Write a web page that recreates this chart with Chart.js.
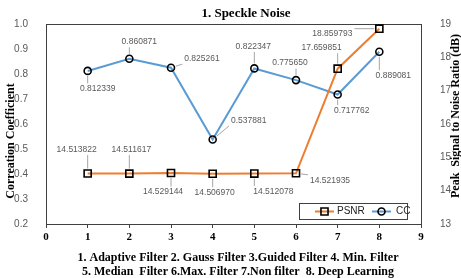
<!DOCTYPE html>
<html>
<head>
<meta charset="utf-8">
<script src="https://cdn.jsdelivr.net/npm/chart.js@4/dist/chart.umd.min.js"></script>
<style>
  html, body { margin: 0; padding: 0; background: #fff; }
  #wrap { width: 461px; height: 278px; position: relative; }
</style>
</head>
<body>
<div id="wrap"><canvas id="c" width="461" height="278"></canvas></div>
<script>
// filters 1..8
const filters = [1, 2, 3, 4, 5, 6, 7, 8]
const psnr = [14.513822, 14.511617, 14.529144, 14.506970, 14.512078, 14.521935, 17.659851, 18.859793]
const cc = [0.812339, 0.860871, 0.825261, 0.537881, 0.822347, 0.775650, 0.717762, 0.889081]
const xTicks = [0, 1, 2, 3, 4, 5, 6, 7, 8, 9]
const ccTicks = [0.2, 1.0]
const psnrTicks = [13, 19]

const titleText = '1. Speckle Noise'
const caption = [
	'1. Adaptive Filter 2. Gauss Filter 3.Guided Filter 4. Min. Filter',
	'5. Median  Filter 6.Max. Filter 7.Non filter  8. Deep Learning'
]

// label offsets (label centre relative to point), px
const ccLabelPos = [[10, 18], [10, -17], [31, -9], [36, -19], [-1, -22], [-6, -17], [14, 16], [14, 24]]
const psnrLabelPos = [[-11, -24], [2, -24], [-8, 19], [2, 19], [19, 18], [34, 7], [-16, -21], [-47, 5]]

const BLUE = '#5B9BD5'
const ORANGE = '#ED7D31'
const GRAY = '#595959'
const serif = '"Liberation Serif", "Times New Roman", serif'
const sans = '"Liberation Sans", Arial, sans-serif'

var decor = {
	id: 'decor',
	beforeDatasetsDraw(chart) {
		const ctx = chart.ctx, a = chart.chartArea
		ctx.save()
		ctx.strokeStyle = '#404040'
		ctx.lineWidth = 1
		ctx.strokeRect(Math.round(a.left) + 0.5, Math.round(a.top) + 0.5, Math.round(a.right - a.left), Math.round(a.bottom - a.top))
		ctx.restore()
	},
	afterDatasetsDraw(chart) {
		const ctx = chart.ctx, a = chart.chartArea
		ctx.save()
		// data labels with leader lines
		ctx.font = '8.5px ' + sans
		ctx.textAlign = 'center'
		ctx.textBaseline = 'middle'
		const sets = [[0, psnrLabelPos], [1, ccLabelPos]]
		sets.forEach(([di, pos]) => {
			const meta = chart.getDatasetMeta(di)
			const vals = chart.data.datasets[di].values
			meta.data.forEach((pt, i) => {
				const txt = vals[i].toFixed(6)
				const cx = pt.x + pos[i][0], cy = pt.y + pos[i][1]
				const w = ctx.measureText(txt).width, h = 9
				// nearest point on label box
				const bx = Math.max(cx - w / 2 - 2, Math.min(pt.x, cx + w / 2 + 2))
				const by = Math.max(cy - h / 2 - 1, Math.min(pt.y, cy + h / 2 + 1))
				const dx = bx - pt.x, dy = by - pt.y
				const d = Math.sqrt(dx * dx + dy * dy)
				if (d > 8) {
					ctx.strokeStyle = '#A6A6A6'
					ctx.lineWidth = 1
					ctx.beginPath()
					ctx.moveTo(pt.x + dx / d * 5, pt.y + dy / d * 5)
					ctx.lineTo(bx, by)
					ctx.stroke()
				}
				ctx.fillStyle = GRAY
				ctx.fillText(txt, cx, cy)
			})
		})

		// legend box
		const lx = 299, ly = 203, lw = 108, lh = 16
		ctx.fillStyle = '#fff'
		ctx.fillRect(lx, ly, lw, lh)
		ctx.strokeStyle = '#404040'
		ctx.lineWidth = 1
		ctx.strokeRect(lx + 0.5, ly + 0.5, lw, lh)
		const items = [[0, 315, 337, 'rect', 5], [1, 372, 396, 'circle', 3.5]]
		ctx.font = '10px ' + sans
		ctx.textAlign = 'left'
		items.forEach(([di, x0, tx, style, r]) => {
			const ds = chart.data.datasets[di]
			const yy = ly + lh / 2 + 0.5
			ctx.strokeStyle = ds.borderColor
			ctx.lineWidth = 2
			ctx.beginPath()
			ctx.moveTo(x0, yy)
			ctx.lineTo(x0 + 19, yy)
			ctx.stroke()
			ctx.fillStyle = 'rgba(0,0,0,0)'
			ctx.strokeStyle = '#000'
			ctx.lineWidth = 1.6
			Chart.helpers.drawPoint(ctx, {pointStyle: style, radius: r, borderWidth: 1.6}, x0 + 9.5, yy)
			ctx.fillStyle = '#222'
			ctx.fillText(ds.label, tx, yy)
		})

		// title, axis titles, caption
		ctx.fillStyle = '#000'
		ctx.textAlign = 'center'
		ctx.font = 'bold 13px ' + serif
		ctx.fillText(titleText, 246, 14)
		ctx.font = 'bold 12px ' + serif
		caption.forEach((line, i) => ctx.fillText(line, 238, 258 + i * 14))

		ctx.save()
		ctx.translate(11, 141)
		ctx.rotate(-Math.PI / 2)
		ctx.fillText('Correation Coefficient', 0, 0)
		ctx.restore()
		ctx.save()
		ctx.translate(456, 116)
		ctx.rotate(-Math.PI / 2)
		ctx.fillText('Peak  Signal to Noise Ratio (dB)', 0, 0)
		ctx.restore()
		ctx.restore()
	}
}

new Chart(document.getElementById('c'), {
	type: 'line',
	data: {
		datasets: [
			{
				label: 'PSNR',
				values: psnr,
				data: filters.map((f, i) => ({x: f, y: psnr[i]})),
				yAxisID: 'y1',
				borderColor: ORANGE,
				borderWidth: 2,
				pointStyle: 'rect',
				pointRadius: 5,
				pointBorderColor: '#000',
				pointBorderWidth: 1.6,
				pointBackgroundColor: 'rgba(0,0,0,0)'
			},
			{
				label: 'CC',
				values: cc,
				data: filters.map((f, i) => ({x: f, y: cc[i]})),
				yAxisID: 'y',
				borderColor: BLUE,
				borderWidth: 2,
				pointStyle: 'circle',
				pointRadius: 3.5,
				pointBorderColor: '#000',
				pointBorderWidth: 1.6,
				pointBackgroundColor: 'rgba(0,0,0,0)'
			}
		]
	},
	options: {
		responsive: false,
		animation: false,
		layout: {padding: {top: 24, left: 0, right: 0, bottom: 0}},
		plugins: {legend: {display: false}, tooltip: {enabled: false}, title: {display: false}},
		scales: {
			x: {
				type: 'linear',
				min: xTicks[0], max: xTicks[xTicks.length - 1],
				afterBuildTicks: s => { s.ticks = xTicks.map(v => ({value: v})) },
				afterFit: s => { s.height = 54 },
				grid: {drawOnChartArea: false, drawTicks: true, tickLength: 4, color: '#404040'},
				border: {display: false},
				ticks: {color: '#000', padding: 3, font: {family: serif, size: 11, weight: 'bold'}}
			},
			y: {
				position: 'left',
				min: ccTicks[0], max: ccTicks[1],
				ticks: {stepSize: 0.1, color: GRAY, padding: 10, font: {family: sans, size: 10}, callback: v => v.toFixed(1)},
				afterFit: s => { s.width = 46 },
				grid: {display: false},
				border: {display: false}
			},
			y1: {
				position: 'right',
				min: psnrTicks[0], max: psnrTicks[1],
				ticks: {stepSize: 1, color: GRAY, padding: 11, font: {family: sans, size: 10}},
				afterFit: s => { s.width = 40 },
				grid: {display: false},
				border: {display: false}
			}
		}
	},
	plugins: [decor]
})
</script>
</body>
</html>
